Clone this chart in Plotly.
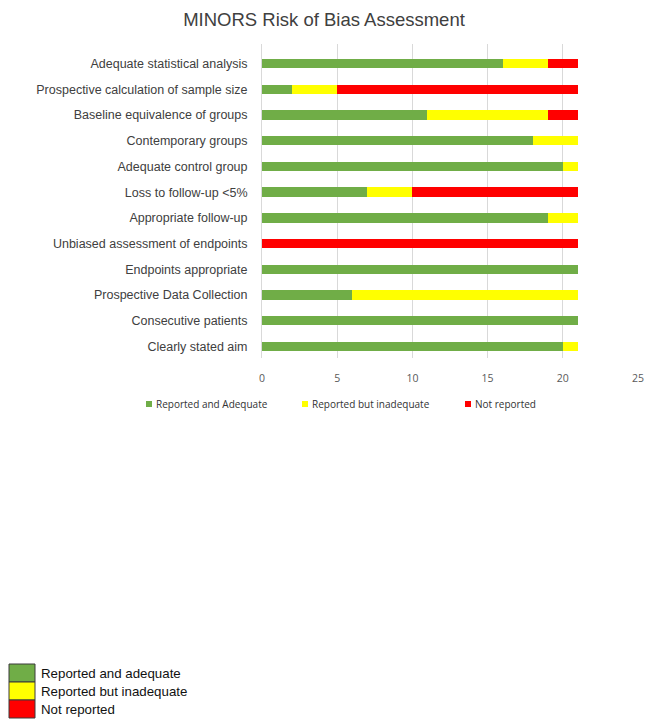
import plotly.graph_objects as go

categories = [
    "Adequate statistical analysis",
    "Prospective calculation of sample size",
    "Baseline equivalence of groups",
    "Contemporary groups",
    "Adequate control group",
    "Loss to follow-up <5%",
    "Appropriate follow-up",
    "Unbiased assessment of endpoints",
    "Endpoints appropriate",
    "Prospective Data Collection",
    "Consecutive patients",
    "Clearly stated aim",
]
adequate = [16, 2, 11, 18, 20, 7, 19, 0, 21, 6, 21, 20]
inadequate = [3, 3, 8, 3, 1, 3, 2, 0, 0, 15, 0, 1]
not_reported = [2, 16, 2, 0, 0, 11, 0, 21, 0, 0, 0, 0]
x_ticks = [0, 5, 10, 15, 20, 25]

series_names = ["Reported and Adequate", "Reported but inadequate", "Not reported"]
key_labels = ["Reported and adequate", "Reported but inadequate", "Not reported"]
colors = ["#70AD47", "#FFFF00", "#FF0000"]

W, H = 646, 719
L, T = 262, 44
R = W - 638
B = H - 358
PW, PH = W - L - R, H - T - B

def px(x):
    return (x - L) / PW

def py(y):
    return (H - B - y) / PH

fig = go.Figure()
for name, vals, c in zip(series_names, [adequate, inadequate, not_reported], colors):
    fig.add_trace(go.Bar(y=categories, x=vals, name=name, orientation="h",
                         marker=dict(color=c, line=dict(width=0))))

fig.update_layout(
    barmode="stack", bargap=0.63,
    width=W, height=H,
    margin=dict(l=L, r=R, t=T, b=B, autoexpand=False),
    paper_bgcolor="white", plot_bgcolor="white",
    font=dict(family="Liberation Sans, Arial", color="#404040"),
    title=dict(text="MINORS Risk of Bias Assessment", x=324 / W, xref="container",
               xanchor="center", y=1 - 20 / H, yref="container", yanchor="middle",
               font=dict(size=18.5, color="#404040")),
    showlegend=False,
)
fig.update_xaxes(range=[0, 25], tickvals=x_ticks, showgrid=True, gridcolor="#D9D9D9",
                 gridwidth=1, zeroline=False, showline=False, ticks="",
                 tickfont=dict(size=10.5, color="#595959", family="Open Sans, Liberation Sans"),
                 ticklabelstandoff=12)
fig.update_yaxes(range=[11.45, -0.76], showgrid=False, zeroline=False,
                 showline=True, linecolor="#D9D9D9", ticks="",
                 tickfont=dict(size=12.5, color="#404040"), ticklabelstandoff=11)

# series legend under the axis
leg_x = [146, 302, 465]
for x0, c, name in zip(leg_x, colors, series_names):
    fig.add_shape(type="rect", xref="paper", yref="paper",
                  x0=px(x0), x1=px(x0 + 6), y0=py(401), y1=py(407),
                  fillcolor=c, line=dict(width=0))
    fig.add_annotation(xref="paper", yref="paper", x=px(x0 + 8), y=py(404),
                       xanchor="left", yanchor="middle", text=name, showarrow=False,
                       font=dict(size=10, color="#333333", family="Open Sans, Liberation Sans"))

# bottom key
box_tops = [664, 682, 700]
for top, c, lab in zip(box_tops, colors, key_labels):
    fig.add_shape(type="rect", xref="paper", yref="paper",
                  x0=px(9), x1=px(35), y0=py(top), y1=py(top + 18),
                  fillcolor=c, line=dict(color="#3a3a3a", width=1))
    fig.add_annotation(xref="paper", yref="paper", x=px(39), y=py(top + 9),
                       xanchor="left", yanchor="middle", text=lab, showarrow=False,
                       font=dict(size=13.3, color="#111111", family="Liberation Sans, Arial"))

fig.write_html("out.html", config={"displayModeBar": False},
               post_script="document.body.style.margin='0';document.body.style.overflow='hidden';")
